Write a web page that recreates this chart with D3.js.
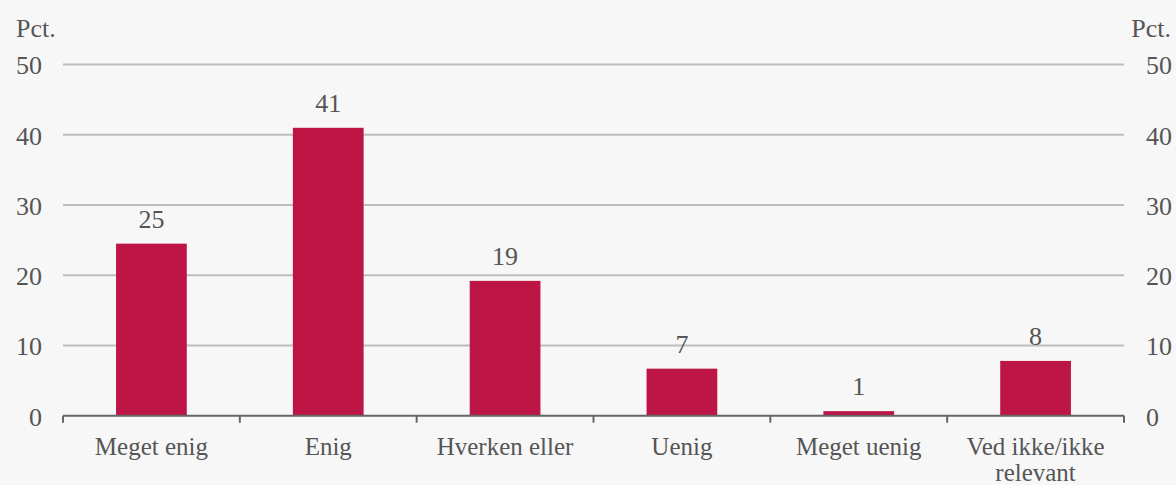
<!DOCTYPE html>
<html>
<head>
<meta charset="utf-8">
<script src="https://cdn.jsdelivr.net/npm/d3@7"></script>
<style>
  html, body { margin: 0; padding: 0; background: #f7f7f7; }
  svg { display: block; }
  text { font-family: "Liberation Serif", serif; fill: #555; }
</style>
</head>
<body>
<svg id="chart"></svg>
<script>
const categories = ['Meget enig', 'Enig', 'Hverken eller', 'Uenig', 'Meget uenig', 'Ved ikke/ikke relevant'];
const values = [24.5, 41, 19.2, 6.7, 0.65, 7.8];
const valueLabels = ['25', '41', '19', '7', '1', '8'];
const yTicks = [0, 10, 20, 30, 40, 50];

const width = 1176, height = 485;
const margin = {top: 64.6, right: 52, bottom: 69.3, left: 63};
const innerW = width - margin.left - margin.right;
const innerH = height - margin.top - margin.bottom;
const fontSize = 26;
const catFontSize = 25;

const svg = d3.select('#chart')
  .attr('width', width)
  .attr('height', height);

svg.append('rect').attr('width', width).attr('height', height).attr('fill', '#f7f7f7');

const chart = svg.append('g')
  .attr('transform', 'translate(' + margin.left + ',' + margin.top + ')');

const x = d3.scaleBand()
  .domain(categories)
  .range([0, innerW])
  .paddingInner(0)
  .paddingOuter(0);

const y = d3.scaleLinear()
  .domain([0, 50])
  .range([innerH, 0]);

// gridlines
chart.append('g')
  .selectAll('line')
  .data(yTicks.filter(d => d > 0))
  .enter().append('line')
  .attr('x1', 0)
  .attr('x2', innerW)
  .attr('y1', d => y(d))
  .attr('y2', d => y(d))
  .attr('stroke', '#bdbdbd')
  .attr('stroke-width', 2);

// left axis labels
const leftAxis = d3.axisLeft(y).tickValues(yTicks).tickSize(0).tickPadding(21);
const gl = chart.append('g').call(leftAxis);
gl.select('.domain').remove();
gl.selectAll('text')
  .style('font-size', fontSize + 'px')
  .style('font-family', '"Liberation Serif", serif')
  .attr('fill', '#555')
  .attr('dy', '0.36em');

// right axis labels
const rightAxis = d3.axisRight(y).tickValues(yTicks).tickSize(0).tickPadding(22);
const gr = chart.append('g').attr('transform', 'translate(' + innerW + ',0)').call(rightAxis);
gr.select('.domain').remove();
gr.selectAll('text')
  .style('font-size', fontSize + 'px')
  .style('font-family', '"Liberation Serif", serif')
  .attr('fill', '#555')
  .attr('dy', '0.36em');

// bars
const barW = x.bandwidth() * 0.4;
chart.selectAll('.bar')
  .data(values)
  .enter().append('rect')
  .attr('class', 'bar')
  .attr('x', (d, i) => x(categories[i]) + (x.bandwidth() - barW) / 2)
  .attr('y', d => y(d))
  .attr('width', barW)
  .attr('height', d => innerH - y(d))
  .attr('fill', '#be1547');

// value labels
chart.selectAll('.val')
  .data(values)
  .enter().append('text')
  .attr('class', 'val')
  .attr('x', (d, i) => x(categories[i]) + x.bandwidth() / 2)
  .attr('y', d => y(d) - 16)
  .attr('text-anchor', 'middle')
  .style('font-size', fontSize + 'px')
  .text((d, i) => valueLabels[i]);

// x axis
const xAxis = chart.append('g').attr('transform', 'translate(0,' + innerH + ')');
xAxis.append('line')
  .attr('x1', 0).attr('x2', innerW)
  .attr('stroke', '#666').attr('stroke-width', 2);
const bounds = categories.map(c => x(c)).concat([innerW]);
xAxis.selectAll('.tick')
  .data(bounds)
  .enter().append('line')
  .attr('x1', d => d).attr('x2', d => d)
  .attr('y1', 0).attr('y2', 7)
  .attr('stroke', '#666').attr('stroke-width', 2);

const catText = xAxis.selectAll('.cat')
  .data(categories)
  .enter().append('text')
  .attr('class', 'cat')
  .attr('x', d => x(d) + x.bandwidth() / 2)
  .attr('y', 39.5)
  .attr('text-anchor', 'middle')
  .style('font-size', catFontSize + 'px');

catText.each(function(d) {
  const el = d3.select(this);
  const words = d.split(' ');
  let line = [];
  let tspan = el.append('tspan').attr('x', el.attr('x')).attr('dy', 0);
  words.forEach(w => {
    line.push(w);
    tspan.text(line.join(' '));
    if (tspan.node().getComputedTextLength() > x.bandwidth() - 16 && line.length > 1) {
      line.pop();
      tspan.text(line.join(' '));
      line = [w];
      tspan = el.append('tspan').attr('x', el.attr('x')).attr('dy', 25.5).text(w);
    }
  });
});

// unit labels
svg.append('text')
  .attr('x', 16).attr('y', 37)
  .style('font-size', fontSize + 'px')
  .text('Pct.');
svg.append('text')
  .attr('x', 1171).attr('y', 37)
  .attr('text-anchor', 'end')
  .style('font-size', fontSize + 'px')
  .text('Pct.');
</script>
</body>
</html>
